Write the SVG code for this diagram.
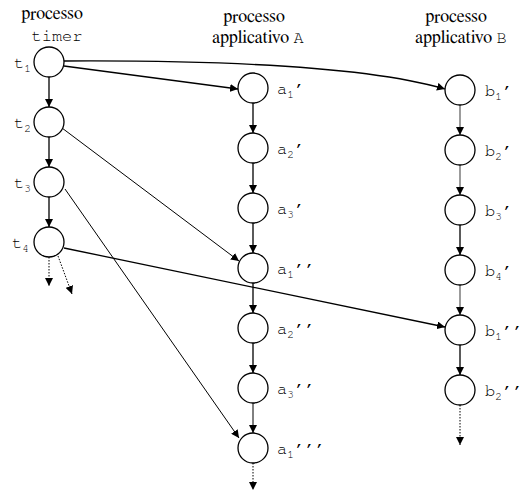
<svg xmlns="http://www.w3.org/2000/svg" width="523" height="491" viewBox="0 0 523 491">
<defs>
<marker id="ah" viewBox="0 0 10 10" refX="10" refY="5" markerWidth="8" markerHeight="8" markerUnits="userSpaceOnUse" orient="auto"><path d="M0,0 L10,5 L0,10 z" fill="#000"/></marker>
<style>
.n{fill:#fff;stroke:#000;stroke-width:1.3}
.sub{font-size:11px}
.c{fill:none;stroke:#000;stroke-width:1.3}
.t{fill:none;stroke:#000;stroke-width:1}
.g{fill:none;stroke:#666;stroke-width:1.3}
.d{fill:none;stroke:#000;stroke-width:1;stroke-dasharray:1.5 1.5}
</style>
</defs>
<rect width="523" height="491" fill="#fff"/>
<g id="headers" font-family="FreeSerif, Liberation Serif, Times New Roman, serif" font-size="18" text-anchor="middle" fill="#000">
<text x="52" y="19">processo</text>
<text x="57" y="41" font-family="FreeMono, Liberation Mono, Courier New, monospace" font-size="17">timer</text>
<text x="254" y="22">processo</text>
<text x="258" y="43">applicativo <tspan font-family="FreeMono, Liberation Mono, Courier New, monospace" font-size="17">A</tspan></text>
<text x="456" y="22">processo</text>
<text x="461" y="43">applicativo <tspan font-family="FreeMono, Liberation Mono, Courier New, monospace" font-size="17">B</tspan></text>
</g>
<g id="connectors">
<line class="c" x1="49" y1="77" x2="49" y2="107" marker-end="url(#ah)"/>
<line class="c" x1="49" y1="137" x2="49" y2="167" marker-end="url(#ah)"/>
<line class="c" x1="49" y1="197" x2="49" y2="227" marker-end="url(#ah)"/>
<line class="d" x1="49" y1="257" x2="49" y2="286" marker-end="url(#ah)"/>
<line class="d" x1="58" y1="256" x2="72" y2="294" marker-end="url(#ah)"/>
<line class="c" x1="253" y1="103" x2="253" y2="133" marker-end="url(#ah)"/>
<line class="c" x1="253" y1="163" x2="253" y2="193" marker-end="url(#ah)"/>
<line class="c" x1="253" y1="223" x2="253" y2="253" marker-end="url(#ah)"/>
<line class="c" x1="253" y1="283" x2="253" y2="313" marker-end="url(#ah)"/>
<line class="c" x1="253" y1="343" x2="253" y2="373" marker-end="url(#ah)"/>
<line class="t" x1="253" y1="403" x2="253" y2="433" marker-end="url(#ah)"/>
<line class="d" x1="253" y1="463" x2="253" y2="490" marker-end="url(#ah)"/>
<line class="g" x1="460" y1="105" x2="460" y2="135" marker-end="url(#ah)"/>
<line class="g" x1="460" y1="165" x2="460" y2="195" marker-end="url(#ah)"/>
<line class="c" x1="460" y1="225" x2="460" y2="255" marker-end="url(#ah)"/>
<line class="g" x1="460" y1="285" x2="460" y2="315" marker-end="url(#ah)"/>
<line class="c" x1="460" y1="345" x2="460" y2="375" marker-end="url(#ah)"/>
<line class="d" x1="460" y1="405" x2="460" y2="445" marker-end="url(#ah)"/>
<line class="c" x1="64" y1="66" x2="238" y2="89" marker-end="url(#ah)"/>
<path class="c" d="M64,61 C250,60 380,70 445,89" marker-end="url(#ah)"/>
<line class="t" x1="62" y1="128" x2="239" y2="261" marker-end="url(#ah)"/>
<line class="t" x1="65" y1="189" x2="239" y2="438" marker-end="url(#ah)"/>
<line class="c" x1="64" y1="248" x2="445" y2="327" marker-end="url(#ah)"/>
</g>
<g id="nodes" font-family="FreeMono, Liberation Mono, Courier New, monospace" font-size="17" fill="#000">
<g id="t1"><circle class="n" cx="49" cy="62" r="15"/><text x="14" y="68">t<tspan class="sub" dy="4">1</tspan></text></g>
<g id="t2"><circle class="n" cx="49" cy="122" r="15"/><text x="14" y="128">t<tspan class="sub" dy="4">2</tspan></text></g>
<g id="t3"><circle class="n" cx="49" cy="182" r="15"/><text x="14" y="188">t<tspan class="sub" dy="4">3</tspan></text></g>
<g id="t4"><circle class="n" cx="49" cy="242" r="15"/><text x="12" y="248">t<tspan class="sub" dy="4">4</tspan></text></g>
<g id="a1p"><circle class="n" cx="253" cy="88" r="15"/><text x="277" y="94">a<tspan class="sub" dy="4">1</tspan><tspan dy="-4">′</tspan></text></g>
<g id="a2p"><circle class="n" cx="253" cy="148" r="15"/><text x="277" y="154">a<tspan class="sub" dy="4">2</tspan><tspan dy="-4">′</tspan></text></g>
<g id="a3p"><circle class="n" cx="253" cy="208" r="15"/><text x="277" y="214">a<tspan class="sub" dy="4">3</tspan><tspan dy="-4">′</tspan></text></g>
<g id="a1pp"><circle class="n" cx="253" cy="268" r="15"/><text x="277" y="274">a<tspan class="sub" dy="4">1</tspan><tspan dy="-4">′′</tspan></text></g>
<g id="a2pp"><circle class="n" cx="253" cy="328" r="15"/><text x="277" y="334">a<tspan class="sub" dy="4">2</tspan><tspan dy="-4">′′</tspan></text></g>
<g id="a3pp"><circle class="n" cx="253" cy="388" r="15"/><text x="277" y="394">a<tspan class="sub" dy="4">3</tspan><tspan dy="-4">′′</tspan></text></g>
<g id="a1ppp"><circle class="n" cx="253" cy="448" r="15"/><text x="277" y="454">a<tspan class="sub" dy="4">1</tspan><tspan dy="-4">′′′</tspan></text></g>
<g id="b1p"><circle class="n" cx="460" cy="90" r="15"/><text x="485" y="96">b<tspan class="sub" dy="4">1</tspan><tspan dy="-4">′</tspan></text></g>
<g id="b2p"><circle class="n" cx="460" cy="150" r="15"/><text x="485" y="156">b<tspan class="sub" dy="4">2</tspan><tspan dy="-4">′</tspan></text></g>
<g id="b3p"><circle class="n" cx="460" cy="210" r="15"/><text x="485" y="216">b<tspan class="sub" dy="4">3</tspan><tspan dy="-4">′</tspan></text></g>
<g id="b4p"><circle class="n" cx="460" cy="270" r="15"/><text x="485" y="276">b<tspan class="sub" dy="4">4</tspan><tspan dy="-4">′</tspan></text></g>
<g id="b1pp"><circle class="n" cx="460" cy="330" r="15"/><text x="485" y="336">b<tspan class="sub" dy="4">1</tspan><tspan dy="-4">′′</tspan></text></g>
<g id="b2pp"><circle class="n" cx="460" cy="390" r="15"/><text x="485" y="396">b<tspan class="sub" dy="4">2</tspan><tspan dy="-4">′′</tspan></text></g>
</g>
</svg>
